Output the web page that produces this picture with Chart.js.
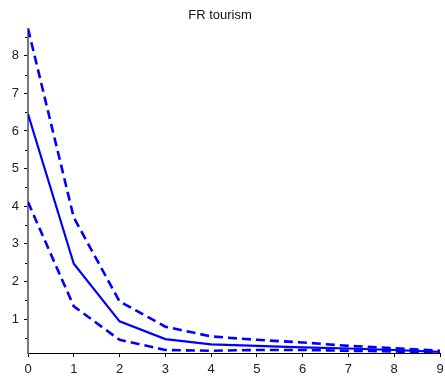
<!DOCTYPE html>
<html>
<head>
<meta charset="utf-8">
<script src="https://cdn.jsdelivr.net/npm/chart.js@4"></script>
<style>
  html, body { margin: 0; padding: 0; background: #fff; }
  #wrap { width: 445px; height: 379px; }
</style>
</head>
<body>
<div id="wrap"><canvas id="c" width="445" height="379"></canvas></div>
<script>
// Forecast horizon steps
const steps = [0, 1, 2, 3, 4, 5, 6, 7, 8, 9];
// Central estimate
const central = [6.45, 2.47, 0.94, 0.47, 0.33, 0.29, 0.25, 0.22, 0.18, 0.13];
// Upper band
const upper = [8.72, 3.70, 1.47, 0.80, 0.54, 0.45, 0.38, 0.29, 0.23, 0.16];
// Lower band
const lower = [4.11, 1.34, 0.45, 0.18, 0.16, 0.18, 0.18, 0.16, 0.14, 0.10];
// Axis labels
const xTickLabels = [0, 1, 2, 3, 4, 5, 6, 7, 8, 9];
const yTickLabels = [1, 2, 3, 4, 5, 6, 7, 8];
const yMinorTicks = [0.5, 1.5, 2.5, 3.5, 4.5, 5.5, 6.5, 7.5, 8.5];
const chartTitle = 'FR tourism';

const toPoints = arr => arr.map((v, i) => ({ x: steps[i], y: v }));
const allVals = central.concat(upper, lower);
const yMin = Math.min(...allVals);
const yMax = Math.max(...allVals);
const fontFamily = 'Liberation Sans, Arial, sans-serif';

// Short minor ticks on the left axis
const minorTicks = {
  id: 'minorTicks',
  afterDraw(chart) {
    const y = chart.scales.y;
    const ctx = chart.ctx;
    ctx.save();
    ctx.strokeStyle = '#000';
    ctx.lineWidth = 1;
    yMinorTicks.forEach(v => {
      if (v < y.min || v > y.max) return;
      const py = Math.round(y.getPixelForValue(v)) + 0.5;
      ctx.beginPath();
      ctx.moveTo(y.right - 1, py);
      ctx.lineTo(y.right - 3, py);
      ctx.stroke();
    });
    ctx.restore();
  }
};

const lineStyle = (data, dashed) => ({
  data: toPoints(data),
  borderColor: '#0000ff',
  backgroundColor: '#0000ff',
  borderWidth: dashed ? 2.6 : 2.2,
  borderDash: dashed ? [9, 5] : [],
  pointRadius: 0,
  tension: 0,
  fill: false
});

new Chart(document.getElementById('c'), {
  type: 'line',
  data: {
    datasets: [
      lineStyle(upper, true),
      lineStyle(central, false),
      lineStyle(lower, true)
    ]
  },
  plugins: [minorTicks],
  options: {
    responsive: false,
    animation: false,
    layout: { padding: { left: 0, right: 5, top: 0, bottom: 0 } },
    plugins: {
      legend: { display: false },
      tooltip: { enabled: false },
      title: {
        display: true,
        text: chartTitle,
        color: '#111',
        font: { family: fontFamily, size: 13, weight: 'normal' },
        padding: { top: 8, bottom: 5 }
      }
    },
    scales: {
      x: {
        type: 'linear',
        min: steps[0],
        max: steps[steps.length - 1],
        afterBuildTicks: s => { s.ticks = xTickLabels.map(v => ({ value: v })); },
        afterFit: s => { s.height = 26; s.paddingLeft = 0; s.paddingRight = 0; },
        grid: { drawOnChartArea: false, drawTicks: true, tickLength: 4, tickColor: '#000' },
        border: { display: true, color: '#000', width: 1 },
        ticks: {
          color: '#222',
          padding: 5,
          maxRotation: 0,
          font: { family: fontFamily, size: 13 }
        }
      },
      y: {
        type: 'linear',
        min: yMin,
        max: yMax,
        afterBuildTicks: s => { s.ticks = yTickLabels.map(v => ({ value: v })); },
        afterFit: s => { s.width = 28; },
        grid: { drawOnChartArea: false, drawTicks: true, tickLength: 4, tickColor: '#000' },
        border: { display: true, color: '#777', width: 2 },
        ticks: {
          color: '#222',
          padding: 5,
          font: { family: fontFamily, size: 13 }
        }
      }
    }
  }
});
</script>
</body>
</html>
